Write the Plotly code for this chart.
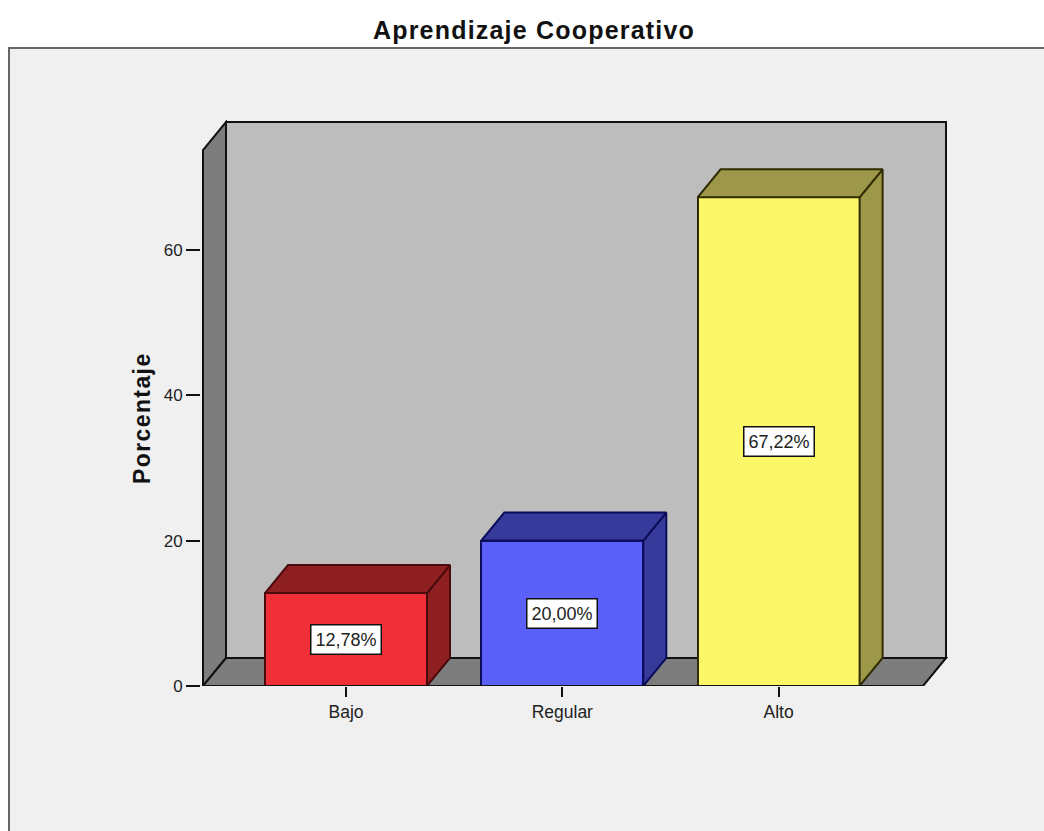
import plotly.graph_objects as go

categories = ["Bajo", "Regular", "Alto"]
values = [12.78, 20.00, 67.22]
labels = ["12,78%", "20,00%", "67,22%"]
front_colors = ["#f03038", "#5b60fb", "#fbf768"]
side_colors = ["#8f2022", "#363b9b", "#9c9749"]
edge_colors = ["#4a0a0c", "#0c0c5a", "#2e2c00"]
y_ticks = [0, 20, 40, 60]

W, H = 1044, 831
L, R, T, B = 203, 946, 122, 686
PAD = 2
PL, PR, PT = L - PAD, R + PAD, T - PAD
PX_X = 216.3
PX_Y = 7.27
X0 = 346.0
BAR_W = 162 / PX_X
DX = 23 / PX_X
DY = 28 / PX_Y
x_min = (L - X0) / PX_X
x_max = (R - X0) / PX_X
y_max = (B - T) / PX_Y
x_right = x_max - DX
wall_top = y_max - DY
LC = "#111111"

xs = list(range(len(categories)))

def poly(pts, fill, layer="below"):
    path = "M " + " L ".join(f"{a},{b}" for a, b in pts) + " Z"
    return dict(type="path", path=path, xref="x", yref="y", fillcolor=fill,
                line=dict(color=LC, width=2), layer=layer)

def px_x(p):
    return (p - PL) / (PR - PL)

def px_y(p):
    return (B - p) / (B - PT)

def spaced(text, px):
    return f'<span style="letter-spacing:{px}px"><b>{text}</b></span>'

shapes = [
    dict(type="rect", xref="paper", yref="paper", x0=px_x(9), x1=px_x(1060), y0=px_y(48), y1=px_y(850),
         fillcolor="#f0f0f0", line=dict(color="#666666", width=2), layer="below"),
    poly([(x_min + DX, DY), (x_max, DY), (x_max, y_max), (x_min + DX, y_max)], "#bdbdbd"),
    poly([(x_min, 0), (x_min + DX, DY), (x_min + DX, y_max), (x_min, wall_top)], "#7d7d7d"),
    poly([(x_min, 0), (x_right, 0), (x_max, DY), (x_min + DX, DY)], "#7d7d7d"),
]

fig = go.Figure()
fig.add_trace(go.Bar(x=xs, y=values, width=BAR_W,
                     marker=dict(color=front_colors, line=dict(color=edge_colors, width=2)),
                     showlegend=False, hoverinfo="skip"))

for i, v in enumerate(values):
    x0, x1 = i - BAR_W / 2, i + BAR_W / 2
    edge = dict(color=edge_colors[i], width=2)
    fig.add_trace(go.Scatter(x=[x1, x1 + DX, x1 + DX, x1, x1], y=[0, DY, v + DY, v, 0], mode="lines", fill="toself",
                             fillcolor=side_colors[i], line=edge, showlegend=False, hoverinfo="skip"))
    fig.add_trace(go.Scatter(x=[x0, x1, x1 + DX, x0 + DX, x0], y=[v, v, v + DY, v + DY, v], mode="lines", fill="toself",
                             fillcolor=side_colors[i], line=edge, showlegend=False, hoverinfo="skip"))

fig.add_trace(go.Scatter(x=[x_min, x_right], y=[0, 0], mode="lines", line=dict(color=LC, width=2),
                         showlegend=False, hoverinfo="skip", cliponaxis=False))

annotations = [
    dict(x=i, y=v / 2, text=labels[i], showarrow=False, bgcolor="white", bordercolor=LC, borderwidth=1.5, borderpad=4,
         font=dict(family="Liberation Sans", size=18, color="#222222"))
    for i, v in enumerate(values)
]
annotations.append(dict(xref="paper", yref="paper", x=px_x(127), y=px_y(418), text=spaced("Porcentaje", 1.4),
                        textangle=-90, showarrow=False,
                        font=dict(family="Liberation Sans", size=23, color="#111111")))

fig.update_layout(
    width=W, height=H, autosize=False,
    margin=dict(l=PL, r=W - PR, t=PT, b=H - B, pad=0),
    paper_bgcolor="white", plot_bgcolor="rgba(0,0,0,0)",
    title=dict(text=spaced("Aprendizaje Cooperativo", 1.2), xref="paper", x=px_x(534), xanchor="center",
               yref="container", y=1 - 30 / H, yanchor="middle",
               font=dict(family="Liberation Sans", size=25, color="#111111")),
    shapes=shapes, annotations=annotations, bargap=0,
    xaxis=dict(range=[x_min - PAD / PX_X, x_max + PAD / PX_X], tickmode="array", tickvals=xs, ticktext=categories,
               ticks="outside", ticklen=10, tickcolor=LC, tickwidth=2, showgrid=False, zeroline=False, showline=False,
               tickfont=dict(family="Liberation Sans", size=17.5, color="#222222")),
    yaxis=dict(range=[0, y_max + PAD / PX_Y], tickmode="array", tickvals=y_ticks, ticks="outside", ticklen=14,
               tickcolor=LC, tickwidth=2, showgrid=False, zeroline=False, showline=False,
               tickfont=dict(family="Liberation Sans", size=17, color="#222222")),
)
fig.write_html("out.html", config=dict(displayModeBar=False),
               post_script="document.body.style.margin='0';document.body.style.overflow='hidden';")
